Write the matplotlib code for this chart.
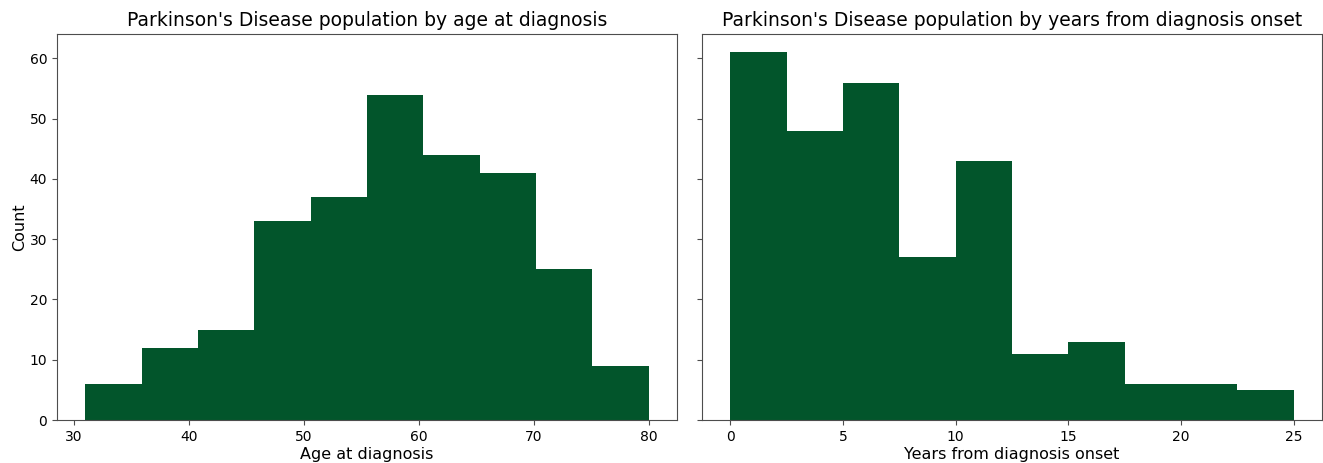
import numpy as np
import matplotlib
matplotlib.use('Agg')
import matplotlib.pyplot as plt

# age at diagnosis histogram (10 bins, 31..80)
age_edges = np.linspace(31, 80, 11)
age_counts = [6, 12, 15, 33, 37, 54, 44, 41, 25, 9]

# years from diagnosis onset histogram (10 bins, 0..25)
years_edges = np.linspace(0, 25, 11)
years_counts = [61, 48, 56, 27, 43, 11, 13, 6, 6, 5]

color = '#02552b'

fig, (ax1, ax2) = plt.subplots(1, 2, figsize=(13.23, 4.63), dpi=100, sharey=True)
fig.subplots_adjust(left=57/1323, right=1322/1323, bottom=43/463, top=429/463, wspace=25/620)

ax1.hist(age_edges[:-1], bins=age_edges, weights=age_counts, color=color)
ax1.set_title("Parkinson's Disease population by age at diagnosis", fontsize=13.5)
ax1.set_xlabel('Age at diagnosis', fontsize=11.5, labelpad=2)
ax1.set_ylabel('Count', fontsize=11.5, labelpad=2)

ax2.hist(years_edges[:-1], bins=years_edges, weights=years_counts, color=color)
ax2.set_title("Parkinson's Disease population by years from diagnosis onset", fontsize=13.5)
ax2.set_xlabel('Years from diagnosis onset', fontsize=11.5, labelpad=2)
ax2.set_xticks([0, 5, 10, 15, 20, 25])

for ax in (ax1, ax2):
    for sp in ax.spines.values():
        sp.set_color('0.3')
    ax.tick_params(color='0.3')

fig.savefig('out.png')
